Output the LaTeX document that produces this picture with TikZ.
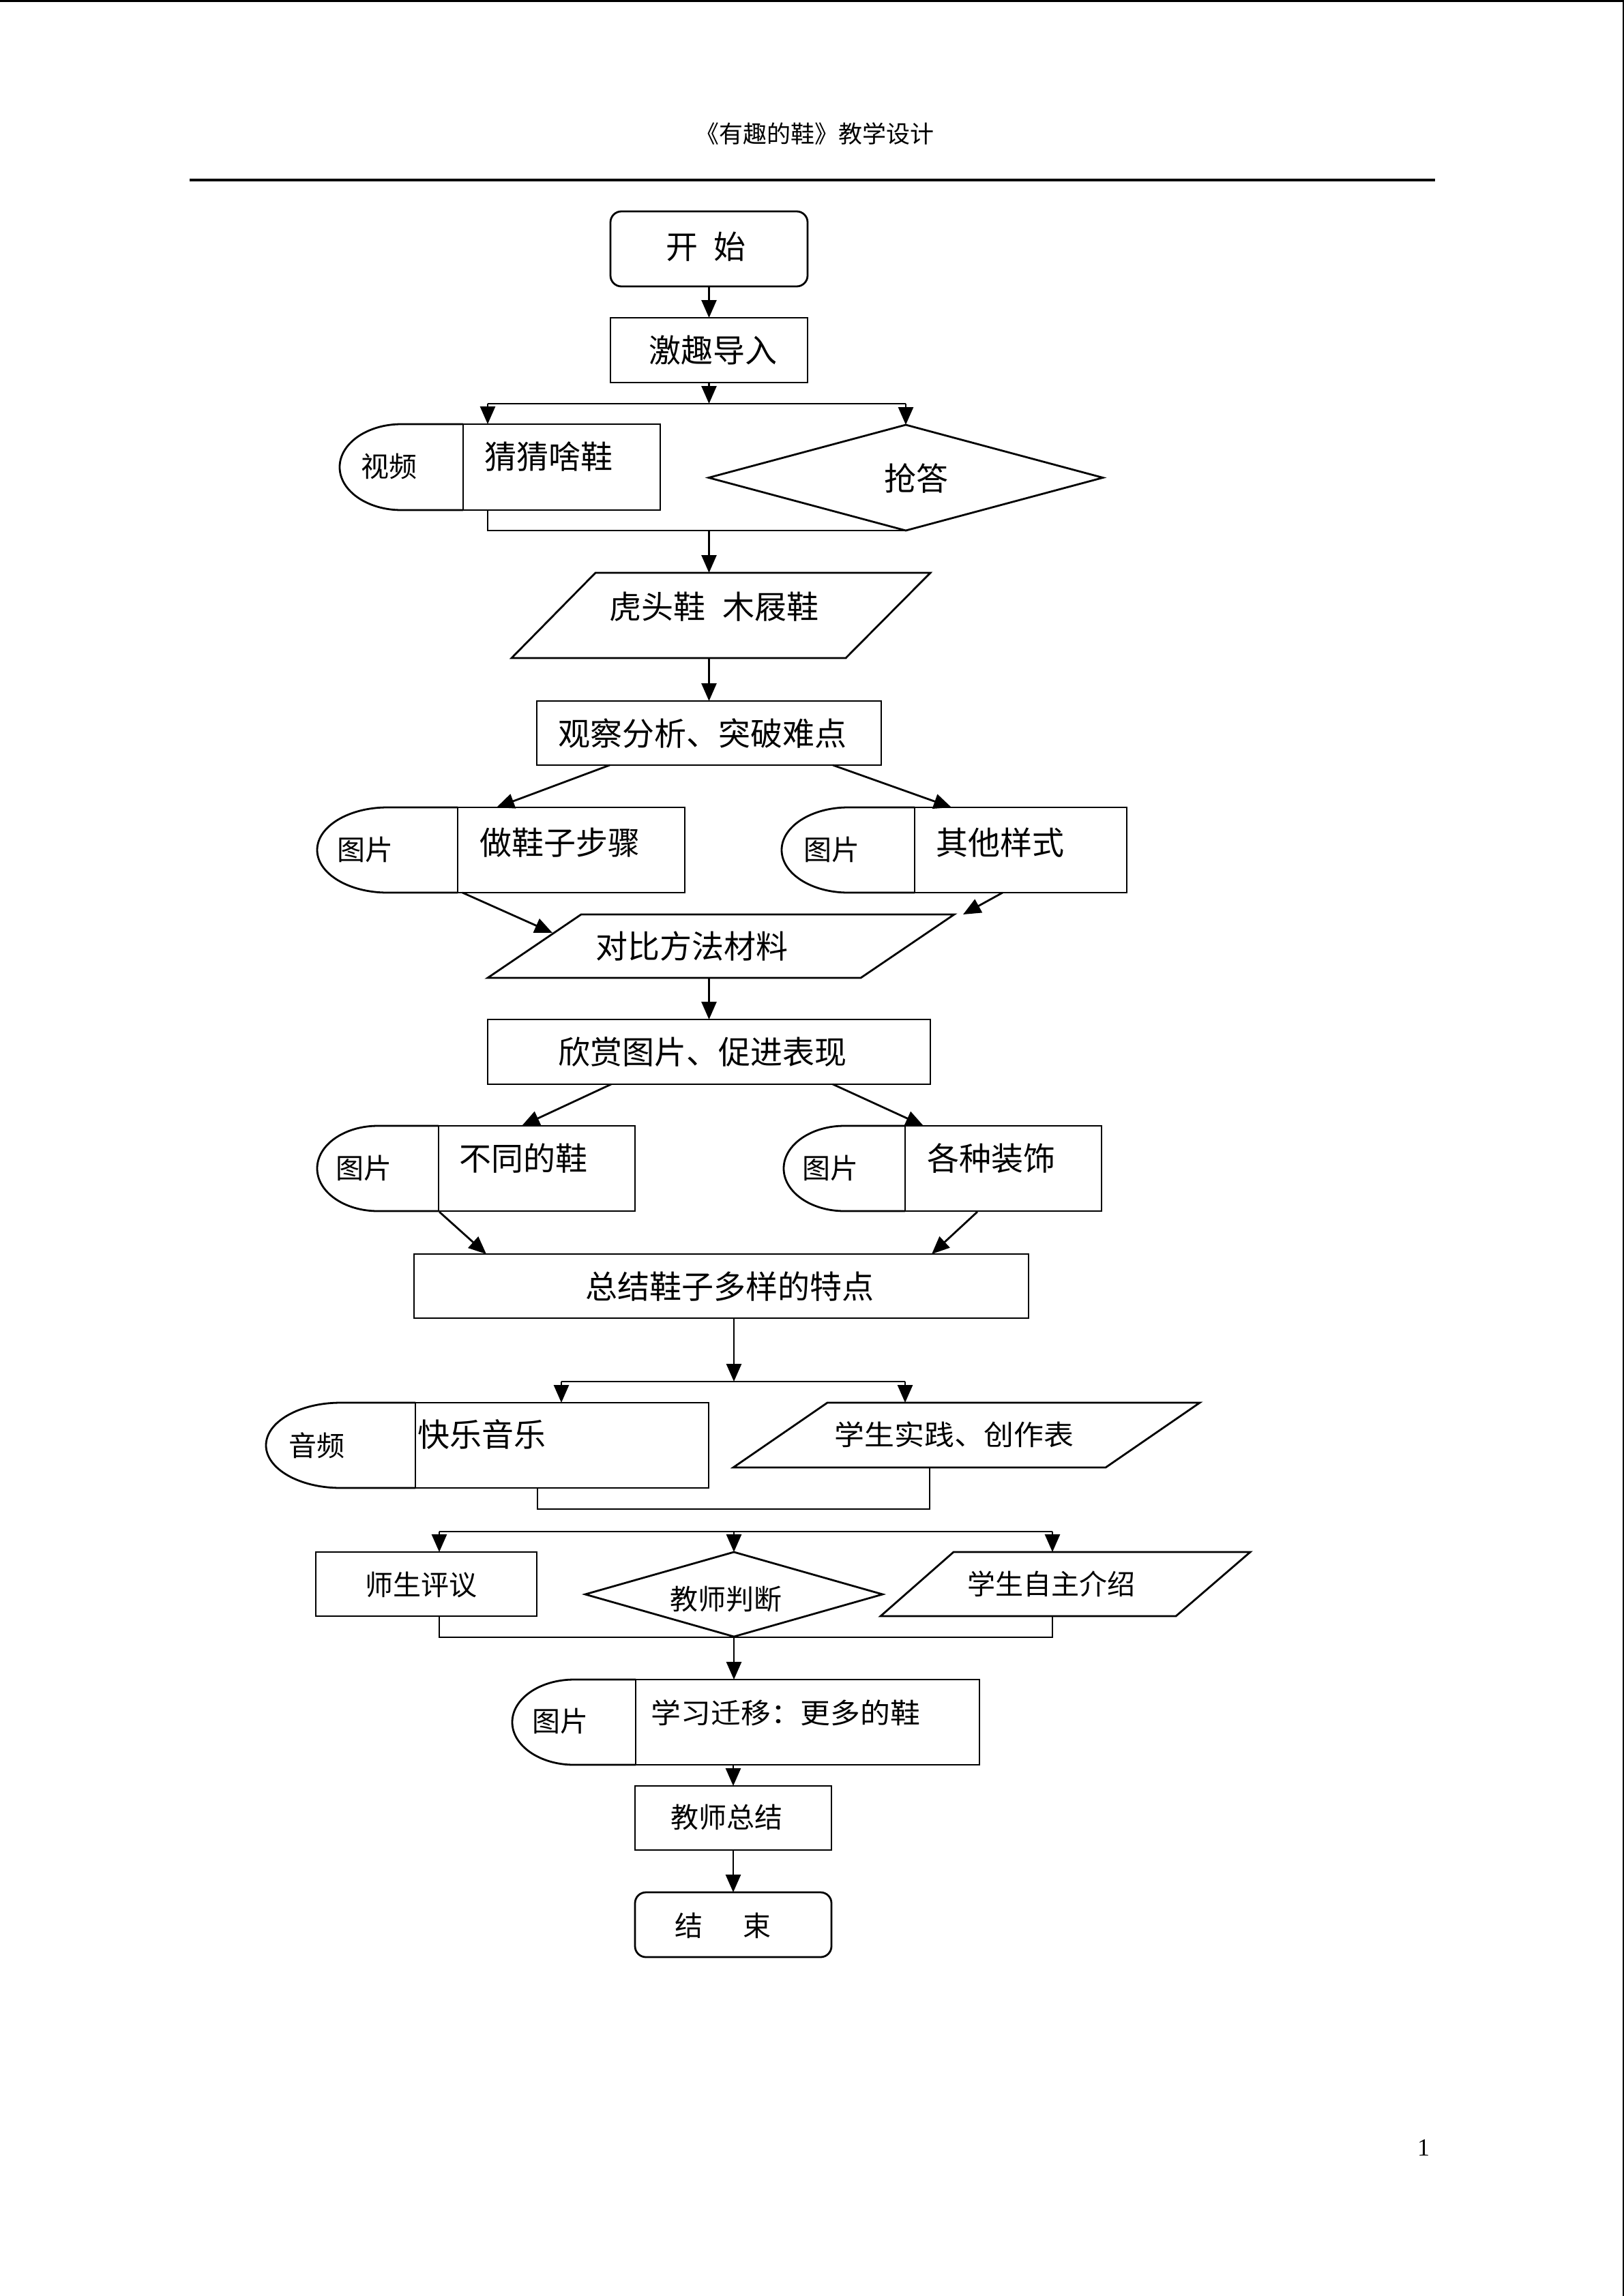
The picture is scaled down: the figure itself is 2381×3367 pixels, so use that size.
\documentclass[tikz,border=0pt]{standalone}
\usepackage{fontspec}
\usepackage{graphicx}
\setmainfont{Liberation Serif}
\newfontfamily\cjk{Noto Sans CJK SC}
\usetikzlibrary{arrows.meta,shapes.geometric}
\newcommand\mydelay[4]{%
  \pgfmathsetmacro\dcx{(#1+#2)/2}%
  \pgfmathsetmacro\drx{(#2-#1)/2*0.5523}%
  \pgfmathsetmacro\dcy{(#3+#4)/2}%
  \pgfmathsetmacro\dry{(#4-#3)/2*0.5523}%
  \draw[ln] (#2,#3) -- (\dcx,#3) .. controls ({\dcx-\drx},#3) and (#1,{\dcy-\dry}) .. (#1,\dcy) .. controls (#1,{\dcy+\dry}) and ({\dcx-\drx},#4) .. (\dcx,#4) -- (#2,#4);%
}
\begin{document}
\begin{tikzpicture}[x=1pt,y=-1pt,
  ln/.style={line width=2.8pt, line join=miter},
  arr/.style={ln, -{Triangle[length=26pt,width=22pt]}},
  box/.style={draw, ln, rectangle, inner sep=0pt, outer sep=0pt},
  rbox/.style={box, rounded corners=16pt},
  dia/.style={draw, ln, diamond, inner sep=0pt, outer sep=0pt},
  big/.style={font=\cjk\fontsize{47}{52}\selectfont, inner sep=0pt},
  small/.style={font=\cjk\fontsize{41}{46}\selectfont, inner sep=0pt}]
\useasboundingbox (0,0) rectangle (2381,3367);
\fill[white] (0,0) rectangle (2381,3367);
% page borders
\draw[line width=3.5pt] (0,1.75) -- (2381,1.75);
\draw[line width=2.5pt] (2379.75,0) -- (2379.75,3367);
% header
\node[font=\cjk\fontsize{35}{40}\selectfont, inner sep=0pt] (hdr) at (1194,196) {《有趣的鞋》教学设计};
\draw[line width=3.5pt] (278,264) -- (2104,264);
\node[font=\fontsize{36}{40}\selectfont, inner sep=0pt] (pg) at (2087,3150) {1};

% start
\node[rbox, minimum width=289, minimum height=110] (start) at (1039.5,365) {};
\node[big] (start-t) at (1035,362) {开\hspace{0.5em}始};
% intro
\node[box, minimum width=289, minimum height=95] (intro) at (1039.5,513.5) {};
\node[big] (intro-t) at (1045,514) {激趣导入};
\draw[arr] (start.south) -- (intro.north);
\coordinate (b1) at (1039.5,592);
\coordinate (b1l) at (715,592);
\coordinate (b1r) at (1328,592);
\draw[arr] (intro.south) -- (b1);
\draw[ln] (b1l) -- (b1r);
% video shape
\mydelay{498}{679}{622}{748}
\node[box, minimum width=289, minimum height=126] (pic0) at (823.5,685) {};
\node[small] (pic0-l) at (570,684) {视频};
\node[big] (pic0-t) at (804,670) {猜猜啥鞋};
% diamond
\node[dia, minimum width=578, minimum height=155] (qd) at (1328,700.5) {};
\node[big] (qd-t) at (1343,701) {抢答};
\draw[arr] (b1l) -- (b1l |- pic0.north);
\draw[arr] (b1r) -- (qd.north);
% merge 1
\coordinate (m1a) at (715,748);
\coordinate (m1b) at (715,778);
\coordinate (m1c) at (1039.5,778);
\draw[ln] (m1a) -- (m1b) -- (qd.south);
% para 1
\coordinate (p1a) at (873,840);
\coordinate (p1b) at (1364,840);
\coordinate (p1c) at (1240,965);
\coordinate (p1d) at (750,965);
\draw[ln] (p1a) -- (p1b) -- (p1c) -- (p1d) -- cycle;
\node[big] (p1-t) at (1047,890) {虎头鞋\hspace{0.55em}木屐鞋};
\draw[arr] (m1c) -- (m1c |- p1a);
% observe
\node[box, minimum width=505, minimum height=94] (obs) at (1039.5,1075) {};
\node[big] (obs-t) at (1030,1076) {观察分析、突破难点};
\draw[arr] (obs.north |- p1d) -- (obs.north);
% pic1 / pic2
\mydelay{465}{671}{1184}{1309}
\node[box, minimum width=333, minimum height=125] (pic1) at (837.5,1246.5) {};
\node[small] (pic1-l) at (535,1246) {图片};
\node[big] (pic1-t) at (821,1236) {做鞋子步骤};
\mydelay{1146}{1341}{1184}{1309}
\node[box, minimum width=311, minimum height=125] (pic2) at (1496.5,1246.5) {};
\node[small] (pic2-l) at (1219,1246) {图片};
\node[big] (pic2-t) at (1466,1236) {其他样式};
\coordinate (o1) at (894,1122);
\coordinate (o2) at (1221,1122);
\coordinate (i1) at (728,1184);
\coordinate (i2) at (1395,1184);
\draw[arr] (o1) -- (i1);
\draw[arr] (o2) -- (i2);
% para 2
\coordinate (p2a) at (852,1341);
\coordinate (p2b) at (1399,1341);
\coordinate (p2c) at (1262,1434);
\coordinate (p2d) at (715,1434);
\draw[ln] (p2a) -- (p2b) -- (p2c) -- (p2d) -- cycle;
\node[big] (p2-t) at (1014,1388) {对比方法材料};
\coordinate (q1) at (678,1309);
\coordinate (q1e) at (810,1368);
\coordinate (q2) at (1470,1309);
\coordinate (q2e) at (1412,1341);
\draw[arr] (q1) -- (q1e);
\draw[arr] (q2) -- (q2e);
% appreciate
\node[box, minimum width=649, minimum height=95] (app) at (1039.5,1542.5) {};
\node[big] (app-t) at (1030,1543) {欣赏图片、促进表现};
\draw[arr] (app.north |- p2d) -- (app.north);
% pic3 / pic4
\mydelay{465}{643}{1651}{1776}
\node[box, minimum width=288, minimum height=125] (pic3) at (787,1713.5) {};
\node[small] (pic3-l) at (533,1713) {图片};
\node[big] (pic3-t) at (767,1699) {不同的鞋};
\mydelay{1149}{1327}{1651}{1776}
\node[box, minimum width=288, minimum height=125] (pic4) at (1471,1713.5) {};
\node[small] (pic4-l) at (1217,1713) {图片};
\node[big] (pic4-t) at (1453,1699) {各种装饰};
\coordinate (r1) at (896,1590);
\coordinate (r1e) at (765,1651);
\coordinate (r2) at (1221,1590);
\coordinate (r2e) at (1354,1651);
\draw[arr] (r1) -- (r1e);
\draw[arr] (r2) -- (r2e);
% summary
\node[box, minimum width=901, minimum height=94] (sum) at (1057.5,1886) {};
\node[big] (sum-t) at (1070,1887) {总结鞋子多样的特点};
\coordinate (s1) at (644,1777);
\coordinate (s1e) at (713,1839);
\coordinate (s2) at (1433,1777);
\coordinate (s2e) at (1366,1839);
\draw[arr] (s1) -- (s1e);
\draw[arr] (s2) -- (s2e);
% branch 2
\coordinate (b2s) at (1076,1933);
\coordinate (b2) at (1076,2026);
\coordinate (b2l) at (823,2026);
\coordinate (b2r) at (1327,2026);
\draw[arr] (b2s) -- (b2);
\draw[ln] (b2l) -- (b2r);
% audio
\mydelay{390}{609}{2057}{2182}
\node[box, minimum width=430, minimum height=125] (pic6) at (824,2119.5) {};
\node[small] (pic6-l) at (464,2120) {音频};
\node[big] (pic6-t) at (706,2104) {快乐音乐};
% para 3
\coordinate (p3a) at (1213,2057);
\coordinate (p3b) at (1759,2057);
\coordinate (p3c) at (1621,2152);
\coordinate (p3d) at (1075,2152);
\draw[ln] (p3a) -- (p3b) -- (p3c) -- (p3d) -- cycle;
\node[small] (p3-t) at (1399,2104) {\scalebox{1.07}[1]{学生实践、创作表}};
\draw[arr] (b2l) -- (b2l |- pic6.north);
\draw[arr] (b2r) -- (b2r |- p3a);
% merge 2
\coordinate (m2a) at (788,2182);
\coordinate (m2b) at (788,2213);
\coordinate (m2c) at (1363,2213);
\coordinate (m2d) at (1363,2152);
\draw[ln] (m2a) -- (m2b) -- (m2c) -- (m2d);
% branch 3
\coordinate (b3l) at (644,2246);
\coordinate (b3c) at (1076,2246);
\coordinate (b3r) at (1543,2246);
\draw[ln] (b3l) -- (b3r);
\node[box, minimum width=324, minimum height=94] (pj) at (625,2323) {};
\node[small] (pj-t) at (617,2324) {师生评议};
\node[dia, minimum width=436, minimum height=124] (jd) at (1076,2338) {};
\node[small] (jd-t) at (1064,2345) {教师判断};
\coordinate (p4a) at (1398,2276);
\coordinate (p4b) at (1833,2276);
\coordinate (p4c) at (1724,2370);
\coordinate (p4d) at (1291,2370);
\draw[ln] (p4a) -- (p4b) -- (p4c) -- (p4d) -- cycle;
\node[small] (p4-t) at (1541,2323) {学生自主介绍};
\draw[arr] (b3l) -- (b3l |- pj.north);
\draw[arr] (b3c) -- (jd.north);
\draw[arr] (b3r) -- (b3r |- p4a);
% merge 3
\coordinate (m3a) at (644,2401);
\coordinate (m3c) at (1076,2401);
\coordinate (m3b) at (1543,2401);
\draw[ln] (b3l |- pj.south) -- (m3a) -- (m3b) -- (m3b |- p4d);
% pic5
\mydelay{751}{932}{2463}{2588}
\node[box, minimum width=504, minimum height=125] (pic5) at (1184,2525.5) {};
\node[small] (pic5-l) at (821,2524) {图片};
\node[small] (pic5-t) at (1152,2512) {\scalebox{1.07}[1]{学习迁移：更多的鞋}};
\draw[arr] (m3c) -- (m3c |- pic5.north);
% teacher summary
\node[box, minimum width=288, minimum height=94] (zj) at (1075,2666) {};
\node[small] (zj-t) at (1065,2665) {教师总结};
\draw[arr] (zj.north |- pic5.south) -- (zj.north);
% end
\node[rbox, minimum width=288, minimum height=95] (fin) at (1075,2822.5) {};
\node[small] (fin-t) at (1060,2824) {结\hspace{1.45em}束};
\draw[arr] (zj.south) -- (fin.north);
\end{tikzpicture}
\end{document}
